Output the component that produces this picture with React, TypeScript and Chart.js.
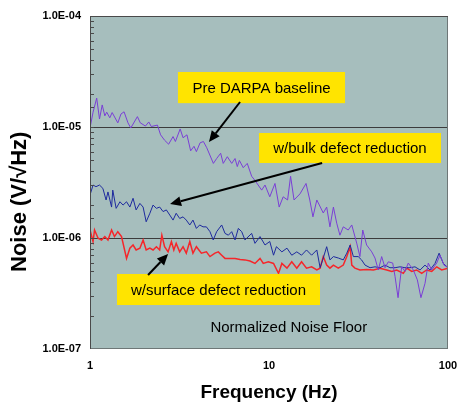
import { useEffect, useRef } from "react";
import Chart from "chart.js/auto";

// ---- data (frequency in Hz, noise in V/sqrt(Hz)) ----
const preFreq = [1.0,1.04,1.09,1.13,1.17,1.21,1.24,1.29,1.33,1.43,1.49,1.55,1.63,1.69,1.84,1.91,2.04,2.13,2.20,2.38,2.48,2.61,2.75,2.91,3.00,3.19,3.31,3.48,3.65,3.81,3.93,4.12,4.30,4.49,4.89,5.10,5.37,5.55,5.85,6.19,6.46,6.65,6.83,7.18,7.56,8.00,8.35,9.10,9.50,10.1,10.8,11.4,12.0,12.7,13.2,13.8,14.9,16.1,16.9,17.6,18.5,20.1,21.0,21.9,22.9,23.9,24.9,26.0,27.7,29.0,30.9,32.2,33.4,35.1,37.5,39.1,40.8,42.6,44.5,46.4,49.1,50.6,52.6,55.1,57.5,60.0,64.0,67.4,70.6,74.4,77.6,81.1,86.5,90.2,95.0,100];
const preNoise = [9.8e-6,1.36e-5,1.82e-5,1.18e-5,1.58e-5,1.26e-5,1.36e-5,1.21e-5,1.35e-5,1.09e-5,1.31e-5,1.37e-5,1.09e-5,9.8e-6,1.24e-5,1.09e-5,1.02e-5,1.11e-5,1.01e-5,1.04e-5,8.5e-6,7.6e-6,7.0e-6,8.2e-6,7.4e-6,9.6e-6,8.0e-6,8.5e-6,6.1e-6,6.7e-6,6.0e-6,7.2e-6,7.4e-6,6.5e-6,4.7e-6,5.2e-6,5.8e-6,4.7e-6,5.4e-6,4.7e-6,5.2e-6,4.4e-6,5.0e-6,4.3e-6,4.7e-6,3.6e-6,3.3e-6,2.7e-6,3.0e-6,2.35e-6,3.1e-6,1.9e-6,2.35e-6,2.2e-6,3.6e-6,2.2e-6,2.5e-6,3.1e-6,2.2e-6,1.55e-6,2.2e-6,1.68e-6,1.9e-6,1.26e-6,1.9e-6,1.36e-6,1.06e-6,1.26e-6,1.18e-6,1.31e-6,9.0e-7,6.8e-7,1.18e-6,8.65e-7,7.5e-7,6.6e-7,5.15e-7,6.8e-7,5.4e-7,6.1e-7,5.95e-7,4.5e-7,2.9e-7,5.5e-7,5.0e-7,5.95e-7,5.15e-7,4.2e-7,2.9e-7,3.9e-7,5.95e-7,5.15e-7,5.95e-7,7.0e-7,5.7e-7,5.4e-7];

const bulkFreq = [1.0,1.04,1.08,1.13,1.18,1.23,1.26,1.32,1.34,1.40,1.47,1.53,1.60,1.67,1.74,1.81,1.90,1.98,2.06,2.16,2.25,2.35,2.45,2.56,2.67,2.79,2.91,3.03,3.17,3.31,3.45,3.61,3.76,3.93,4.10,4.28,4.47,4.68,4.88,5.10,5.44,5.68,5.93,6.19,6.46,6.74,7.04,7.34,8.00,8.35,8.91,9.50,10.1,10.6,11.0,11.8,12.6,13.4,14.3,15.2,16.2,17.3,18.5,19.3,20.1,21.0,21.9,22.9,24.4,26.0,27.2,28.4,29.6,31.5,32.9,34.4,36.7,39.1,41.7,44.5,47.4,50.6,53.9,57.5,61.3,65.4,69.8,74.4,79.3,84.6,89.2,94.1,100];
const bulkNoise = [2.44e-6,3.0e-6,2.9e-6,3.0e-6,2.8e-6,2.2e-6,2.6e-6,1.9e-6,2.7e-6,1.85e-6,2.12e-6,1.98e-6,2.12e-6,1.9e-6,2.28e-6,1.79e-6,2.05e-6,1.9e-6,1.4e-6,1.67e-6,1.98e-6,1.85e-6,1.9e-6,1.73e-6,1.79e-6,1.61e-6,1.45e-6,1.67e-6,1.5e-6,1.55e-6,1.45e-6,1.31e-6,1.45e-6,1.22e-6,1.31e-6,1.26e-6,1.26e-6,1.14e-6,9.6e-7,1.14e-6,1.31e-6,1.1e-6,1.06e-6,1.14e-6,9.6e-7,1.22e-6,1.14e-6,9.6e-7,1.1e-6,8.95e-7,1.03e-6,8.65e-7,9.3e-7,7.0e-7,8.35e-7,7.5e-7,8.1e-7,7.0e-7,7.5e-7,7.0e-7,7.8e-7,7.0e-7,7.8e-7,5.4e-7,6.6e-7,8.35e-7,6.35e-7,6.8e-7,6.6e-7,6.35e-7,7.3e-7,8.65e-7,6.8e-7,6.8e-7,6.35e-7,5.7e-7,5.4e-7,5.5e-7,5.4e-7,5.7e-7,5.4e-7,5.4e-7,5.5e-7,5.4e-7,5.4e-7,5.5e-7,5.15e-7,5.7e-7,5.15e-7,5.9e-7,7.3e-7,5.9e-7,5.4e-7];

const surfFreq = [1.0,1.04,1.06,1.11,1.16,1.21,1.26,1.32,1.37,1.43,1.50,1.60,1.67,1.74,1.81,1.90,1.98,2.06,2.16,2.25,2.35,2.45,2.52,2.61,2.73,2.85,2.94,3.03,3.17,3.31,3.45,3.61,3.76,3.93,4.19,4.47,4.68,4.99,5.21,5.44,5.68,6.05,6.46,6.89,7.34,7.83,8.35,8.91,9.29,9.91,10.6,11.3,11.8,12.6,13.4,14.3,15.2,16.2,17.3,18.5,19.3,20.1,21.0,21.9,22.9,24.4,26.0,27.2,28.4,29.0,30.2,32.2,35.1,38.3,41.7,45.5,48.5,51.7,56.3,58.8,62.7,66.8,71.3,76.0,81.1,86.5,92.2,100];
const surfNoise = [1.18e-6,9.3e-7,1.18e-6,9.95e-7,9.6e-7,1.03e-6,9.6e-7,1.18e-6,1.03e-6,1.14e-6,1.03e-6,6.55e-7,8.1e-7,8.65e-7,7.8e-7,8.1e-7,9.6e-7,7.8e-7,8.1e-7,7.8e-7,8.35e-7,7.8e-7,1.06e-6,8.35e-7,7.5e-7,9.3e-7,7.8e-7,8.95e-7,7.5e-7,8.35e-7,7.3e-7,9.3e-7,7.3e-7,8.35e-7,7.3e-7,7.5e-7,6.8e-7,7.3e-7,7.5e-7,7.0e-7,6.55e-7,6.55e-7,6.55e-7,6.4e-7,6.35e-7,6.2e-7,5.9e-7,6.55e-7,5.9e-7,6.1e-7,5.9e-7,4.8e-7,5.9e-7,5.35e-7,6.1e-7,5.35e-7,6.1e-7,5.35e-7,5.5e-7,5.15e-7,5.35e-7,6.8e-7,5.7e-7,5.35e-7,5.7e-7,5.35e-7,5.7e-7,6.8e-7,8.35e-7,5.7e-7,5.35e-7,5.15e-7,5.2e-7,5.15e-7,5.35e-7,5.15e-7,5.0e-7,5.15e-7,4.8e-7,5.35e-7,5.0e-7,5.15e-7,4.8e-7,5.15e-7,5.0e-7,5.5e-7,5.15e-7,5.35e-7];

const xTickLabels = [1, 10, 100];
const xTitle = "Frequency (Hz)";
const yTitle = "Noise (V/\u221AHz)";

// callouts, anchored in data coordinates
const calloutLabels = ["Pre DARPA baseline", "w/bulk defect reduction", "w/surface defect reduction"];
const calloutBoxFreq = [[3.10, 26.6], [8.79, 91.4], [1.415, 19.27]];
const calloutBoxNoise = [[3.13e-5, 1.64e-5], [8.83e-6, 4.74e-6], [4.74e-7, 2.49e-7]];
const arrowFrom = [[6.89, 1.68e-5], [19.8, 4.74e-6], [2.11, 4.64e-7]];
const arrowTo = [[4.62, 7.33e-6], [2.80, 2.02e-6], [2.73, 7.18e-7]];
const floorLabel = "Normalized Noise Floor";
const floorPos = [12.9, 1.55e-7];

const FONT = "'Liberation Sans', Arial, Helvetica, sans-serif";

const isDecade = (v: number) => {
  const l = Math.log10(v);
  return Math.abs(l - Math.round(l)) < 1e-6;
};

const decorPlugin = {
  id: "decor",
  beforeDraw(chart: any) {
    const { ctx, chartArea: a } = chart;
    ctx.save();
    ctx.fillStyle = "#A6BEBD";
    ctx.fillRect(a.left, a.top, a.right - a.left, a.bottom - a.top);
    ctx.restore();
  },
  afterDatasetsDraw(chart: any) {
    const { ctx } = chart;
    const xs = chart.scales.x;
    const ys = chart.scales.y;
    ctx.save();
    for (let i = 0; i < calloutLabels.length; i++) {
      const x0 = xs.getPixelForValue(calloutBoxFreq[i][0]);
      const x1 = xs.getPixelForValue(calloutBoxFreq[i][1]);
      const y0 = ys.getPixelForValue(calloutBoxNoise[i][0]);
      const y1 = ys.getPixelForValue(calloutBoxNoise[i][1]);
      ctx.fillStyle = "#FFE400";
      ctx.fillRect(x0, y0, x1 - x0, y1 - y0);
      ctx.fillStyle = "#000";
      ctx.font = `15px ${FONT}`;
      ctx.textAlign = "center";
      ctx.textBaseline = "middle";
      ctx.fillText(calloutLabels[i], (x0 + x1) / 2, (y0 + y1) / 2 + 1);
    }
    for (let i = 0; i < arrowFrom.length; i++) {
      const fx = xs.getPixelForValue(arrowFrom[i][0]);
      const fy = ys.getPixelForValue(arrowFrom[i][1]);
      const tx = xs.getPixelForValue(arrowTo[i][0]);
      const ty = ys.getPixelForValue(arrowTo[i][1]);
      const ang = Math.atan2(ty - fy, tx - fx);
      const hl = 11, hw = 5;
      const bx = tx - hl * Math.cos(ang), by = ty - hl * Math.sin(ang);
      ctx.strokeStyle = "#000";
      ctx.lineWidth = 2;
      ctx.beginPath();
      ctx.moveTo(fx, fy);
      ctx.lineTo(bx, by);
      ctx.stroke();
      ctx.fillStyle = "#000";
      ctx.beginPath();
      ctx.moveTo(tx, ty);
      ctx.lineTo(bx + hw * Math.sin(ang), by - hw * Math.cos(ang));
      ctx.lineTo(bx - hw * Math.sin(ang), by + hw * Math.cos(ang));
      ctx.closePath();
      ctx.fill();
    }
    ctx.fillStyle = "#000";
    ctx.font = `15px ${FONT}`;
    ctx.textAlign = "center";
    ctx.textBaseline = "middle";
    ctx.fillText(floorLabel, xs.getPixelForValue(floorPos[0]), ys.getPixelForValue(floorPos[1]));
    ctx.restore();
  },
  afterDraw(chart: any) {
    const { ctx, chartArea: a } = chart;
    const ys = chart.scales.y;
    ctx.save();
    ctx.strokeStyle = "#6E7777";
    ctx.lineWidth = 1;
    ctx.strokeRect(a.left + 0.5, a.top + 0.5, a.right - a.left - 1, a.bottom - a.top - 1);
    ctx.strokeStyle = "#4A4A4A";
    ctx.beginPath();
    ctx.moveTo(a.left + 0.5, a.top);
    ctx.lineTo(a.left + 0.5, a.bottom);
    ctx.moveTo(a.left, a.top + 0.5);
    ctx.lineTo(a.right, a.top + 0.5);
    ctx.stroke();
    ctx.beginPath();
    for (const t of ys.ticks) {
      const p = Math.round(ys.getPixelForValue(t.value)) + 0.5;
      if (p <= a.top + 1 || p >= a.bottom - 1) continue;
      ctx.moveTo(a.left, p);
      ctx.lineTo(a.left + 4, p);
    }
    ctx.stroke();
    ctx.fillStyle = "#000";
    ctx.font = `bold 19px ${FONT}`;
    ctx.textAlign = "center";
    ctx.textBaseline = "middle";
    ctx.fillText(xTitle, (a.left + a.right) / 2, 393);
    ctx.font = `bold 22px ${FONT}`;
    ctx.translate(20, 272);
    ctx.rotate(-Math.PI / 2);
    ctx.textAlign = "left";
    ctx.fillText(yTitle, 0, 0);
    ctx.restore();
  },
};

export default function App() {
  const ref = useRef<HTMLCanvasElement | null>(null);
  useEffect(() => {
    if (!ref.current) return;
    const mk = (f: number[], v: number[]) => f.map((x, i) => ({ x, y: v[i] }));
    const chart = new Chart(ref.current, {
      type: "line",
      data: {
        datasets: [
          { label: "Pre DARPA baseline", data: mk(preFreq, preNoise), borderColor: "#7A3FD6", borderWidth: 1, pointRadius: 0, tension: 0 },
          { label: "w/bulk defect reduction", data: mk(bulkFreq, bulkNoise), borderColor: "#1E2A9E", borderWidth: 1, pointRadius: 0, tension: 0 },
          { label: "w/surface defect reduction", data: mk(surfFreq, surfNoise), borderColor: "#F5262A", borderWidth: 1.5, pointRadius: 0, tension: 0 },
        ],
      },
      options: {
        animation: false,
        responsive: false,
        devicePixelRatio: 1,
        layout: { padding: { top: 16, right: 9, left: 0, bottom: 0 } },
        plugins: { legend: { display: false }, tooltip: { enabled: false } },
        scales: {
          x: {
            type: "logarithmic",
            min: 1,
            max: 100,
            grid: { display: false, drawTicks: false },
            border: { display: false },
            ticks: {
              autoSkip: false,
              maxRotation: 0,
              padding: 10,
              color: "#000",
              font: { family: FONT, size: 11, weight: "bold" },
              callback: (v: any) => {
                const n = Number(v);
                return xTickLabels.some((t) => Math.abs(t - n) < 1e-9) ? String(n) : "";
              },
            },
            afterFit: (s: any) => { s.height = 57; s.paddingLeft = 0; s.paddingRight = 0; },
          },
          y: {
            type: "logarithmic",
            min: 1e-7,
            max: 1e-4,
            grid: {
              drawTicks: false,
              lineWidth: 1,
              color: (c: any) => {
                const v = c.tick ? c.tick.value : 0;
                if (v && isDecade(v) && v > 1.5e-7 && v < 5e-5) return "#3C3C3C";
                return "rgba(0,0,0,0)";
              },
            },
            border: { display: false },
            ticks: {
              autoSkip: false,
              padding: 9,
              color: "#000",
              font: { family: FONT, size: 11, weight: "bold" },
              callback: (v: any) => {
                const n = Number(v);
                if (!isDecade(n)) return "";
                const e = Math.round(Math.log10(n));
                return "1.0E" + (e < 0 ? "-" : "+") + String(Math.abs(e)).padStart(2, "0");
              },
            },
            afterFit: (s: any) => { s.width = 90; s.paddingTop = 0; s.paddingBottom = 0; },
          },
        },
      },
      plugins: [decorPlugin],
    } as any);
    return () => chart.destroy();
  }, []);
  return (
    <div style={{ position: "absolute", left: 0, top: 0, width: 457, height: 406, background: "#fff" }}>
      <canvas ref={ref} width={457} height={406} style={{ display: "block" }} />
    </div>
  );
}
